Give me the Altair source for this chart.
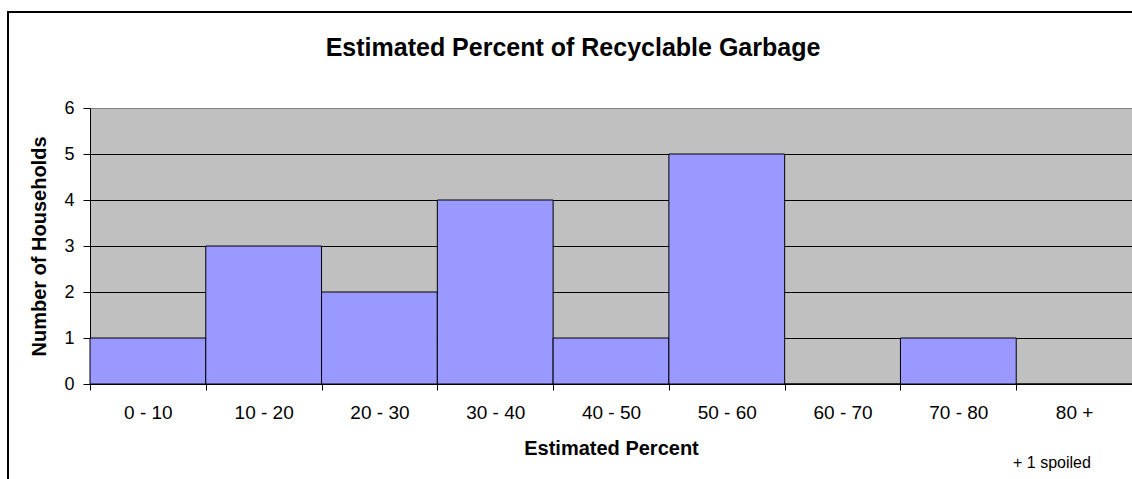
import altair as alt
import pandas as pd

categories = ["0 - 10", "10 - 20", "20 - 30", "30 - 40", "40 - 50",
              "50 - 60", "60 - 70", "70 - 80", "80 +"]
households = [1, 3, 2, 4, 1, 5, 0, 1, 0]
y_ticks = [0, 1, 2, 3, 4, 5, 6]
title_text = "Estimated Percent of Recyclable Garbage"
x_title = "Estimated Percent"
y_title = "Number of Households"
note_text = ["+ 1 spoiled"]

df = pd.DataFrame({"cat": categories, "n": households})
FONT = "Liberation Sans"

bars = alt.Chart(df).mark_bar(
    color="#9999FF", stroke="black", strokeWidth=1
).encode(
    x=alt.X("cat:N", sort=categories,
            scale=alt.Scale(paddingInner=0, paddingOuter=0),
            axis=alt.Axis(title=x_title, labelAngle=0, tickBand="extent",
                          labelFont=FONT, labelFontSize=19, labelColor="black",
                          labelPadding=13, tickSize=6, tickColor="black",
                          domainColor="black", titleFont=FONT, titleFontSize=20,
                          titleFontWeight="bold", titleColor="black",
                          titlePadding=16, grid=False)),
    y=alt.Y("n:Q", scale=alt.Scale(domain=[0, 6], nice=False),
            axis=alt.Axis(title=y_title, values=y_ticks, format="d",
                          labelFont=FONT, labelFontSize=18, labelColor="black",
                          labelPadding=9, tickSize=7, tickColor="black",
                          domainColor="black", titleFont=FONT, titleFontSize=20,
                          titleFontWeight="bold", titleColor="black",
                          titlePadding=14,
                          gridColor={"condition": {"test": "datum.value === 6",
                                                   "value": "#808080"},
                                     "value": "black"},
                          gridOpacity=1)),
)

note = alt.Chart(pd.DataFrame({"t": note_text})).mark_text(
    font=FONT, fontSize=16, color="black", align="center", baseline="alphabetic"
).encode(text="t:N", x=alt.value(962), y=alt.value(360))

border_left = alt.Chart(pd.DataFrame({"t": note_text})).mark_rule(
    color="black", strokeWidth=2
).encode(x=alt.value(-82), y=alt.value(-96), y2=alt.value(400))

border_top = alt.Chart(pd.DataFrame({"t": note_text})).mark_rule(
    color="black", strokeWidth=2
).encode(x=alt.value(-83), x2=alt.value(1060), y=alt.value(-96))

chart = alt.layer(bars, note, border_left, border_top).properties(
    width=1042, height=276,
    autosize=alt.AutoSizeParams(type="none"),
    padding={"left": 90, "top": 108, "right": 0, "bottom": 95},
    background="white",
    title=alt.TitleParams(title_text, font=FONT, fontSize=25, fontWeight="bold",
                          color="black", anchor="middle", dx=-38, offset=-50),
).configure_view(
    fill="#C0C0C0", stroke="#808080", strokeWidth=1
)

chart.save("out.html", embed_options={"renderer": "svg", "actions": False})
